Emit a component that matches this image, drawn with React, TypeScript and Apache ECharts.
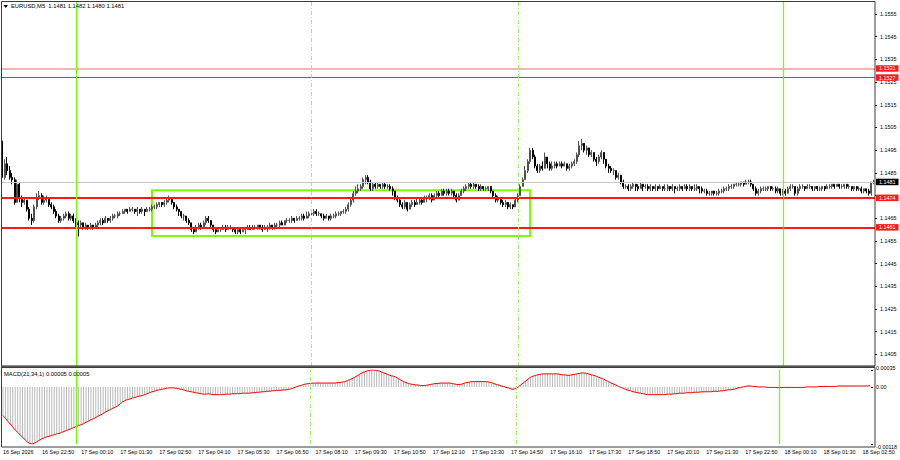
import React, { useEffect, useRef } from 'react';
import * as echarts from 'echarts';

const symbolTitle = 'EURUSD,M5  1.1481 1.1482 1.1480 1.1481';
const macdTitle = 'MACD(21,34,1) 0.00005 0.00005';

// first bar time: 16 Sep 21:30, 5-minute bars
const firstDay = 16;
const firstMinute = 21 * 60 + 30;
const barMinutes = 5;

const timeTickLabels = [
  '16 Sep 2026', '16 Sep 22:50', '17 Sep 00:10', '17 Sep 01:30', '17 Sep 02:50', '17 Sep 04:10',
  '17 Sep 05:30', '17 Sep 06:50', '17 Sep 08:10', '17 Sep 09:30', '17 Sep 10:50', '17 Sep 12:10',
  '17 Sep 13:30', '17 Sep 14:50', '17 Sep 16:10', '17 Sep 17:30', '17 Sep 18:50', '17 Sep 20:10',
  '17 Sep 21:30', '17 Sep 22:50', '18 Sep 00:10', '18 Sep 01:30', '18 Sep 02:50',
];
const tickEvery = 16;

const priceTicks = [
  1.1405, 1.1415, 1.1425, 1.1435, 1.1445, 1.1455, 1.1465, 1.1475,
  1.1485, 1.1495, 1.1505, 1.1515, 1.1525, 1.1535, 1.1545, 1.1555,
];
// 1.1475 is covered by the 1.1474 level marker in the reference
const priceTickLabels = [
  1.1405, 1.1415, 1.1425, 1.1435, 1.1445, 1.1455, 1.1465,
  1.1485, 1.1495, 1.1505, 1.1515, 1.1525, 1.1535, 1.1545, 1.1555,
];
const macdTicks = [0.00035, 0, -0.00118];

// prices in pips above 1.1400
const firstOpen = 99;
const closes = [
  83, 89, 86, 83, 82, 72, 80, 74, 72, 73,
  69, 65, 64, 70, 74, 75, 72, 73, 74, 71,
  70, 68, 66, 64, 65, 66, 67, 65, 66, 64,
  63, 62, 63, 61, 62, 61, 62, 61, 62, 63,
  64, 63, 65, 64, 65, 66, 66, 67, 67, 68,
  69, 68, 69, 69, 68, 69, 68, 69, 68, 69,
  69, 70, 70, 71, 72, 71, 72, 73, 74, 72,
  70, 69, 68, 66, 66, 64, 63, 60, 59, 61,
  62, 61, 63, 65, 64, 62, 60, 59, 60, 60,
  61, 60, 61, 61, 60, 59, 60, 59, 60, 60,
  61, 60, 61, 61, 62, 61, 60, 61, 61, 62,
  61, 62, 62, 63, 62, 64, 64, 64, 65, 64,
  65, 65, 66, 65, 66, 67, 67, 68, 67, 67,
  66, 65, 66, 65, 66, 66, 67, 67, 68, 68,
  69, 71, 73, 76, 77, 78, 79, 82, 83, 81,
  78, 80, 79, 80, 79, 80, 79, 79, 78, 77,
  74, 73, 71, 70, 72, 69, 71, 72, 71, 72,
  73, 72, 74, 74, 75, 73, 75, 76, 75, 77,
  76, 77, 76, 77, 75, 73, 75, 77, 78, 79,
  80, 79, 80, 79, 78, 79, 78, 78, 79, 77,
  75, 73, 74, 72, 71, 72, 70, 71, 70, 73,
  75, 79, 82, 86, 90, 95, 92, 88, 86, 88,
  87, 92, 89, 87, 88, 89, 88, 89, 88, 89,
  87, 88, 89, 90, 93, 97, 98, 95, 96, 93,
  94, 91, 90, 92, 94, 91, 88, 87, 86, 86,
  83, 84, 81, 79, 79, 78, 79, 80, 79, 78,
  80, 79, 79, 78, 79, 78, 79, 78, 79, 78,
  78, 79, 78, 79, 78, 78, 79, 78, 79, 78,
  79, 78, 78, 79, 78, 77, 77, 76, 76, 77,
  76, 76, 77, 77, 78, 78, 79, 79, 80, 80,
  80, 81, 80, 81, 81, 80, 78, 76, 77, 78,
  78, 78, 79, 78, 78, 77, 78, 76, 77, 76,
  78, 79, 79, 76, 78, 79, 79, 78, 79, 79,
  78, 79, 78, 78, 79, 78, 79, 79, 80, 79,
  80, 79, 79, 80, 79, 79, 78, 79, 78, 78,
  77, 78, 77, 76, 81, 81,
];
const highs = [
  100, 91, 92, 88, 85, 83, 82, 81, 75, 74,
  73, 70, 67, 71, 76, 77, 76, 75, 75, 74,
  72, 71, 69, 67, 66, 67, 68, 68, 67, 67,
  65, 64, 64, 63, 63, 62, 63, 62, 63, 64,
  65, 65, 66, 65, 66, 67, 67, 68, 68, 69,
  69, 69, 70, 70, 69, 70, 69, 70, 69, 70,
  70, 71, 71, 72, 72, 72, 73, 74, 75, 74,
  72, 71, 69, 68, 67, 66, 65, 63, 61, 62,
  63, 63, 64, 66, 66, 64, 62, 61, 61, 61,
  62, 62, 62, 62, 61, 61, 61, 60, 61, 61,
  62, 62, 62, 62, 62, 62, 62, 62, 62, 63,
  62, 63, 63, 64, 64, 64, 65, 65, 66, 65,
  66, 66, 67, 67, 68, 68, 68, 69, 69, 68,
  67, 67, 67, 66, 67, 67, 68, 68, 68, 69,
  70, 72, 74, 77, 79, 80, 80, 83, 84, 84,
  82, 81, 81, 81, 80, 81, 81, 80, 80, 79,
  77, 75, 74, 72, 73, 72, 72, 73, 73, 74,
  74, 74, 75, 75, 76, 76, 76, 77, 77, 78,
  78, 78, 78, 78, 77, 76, 76, 78, 79, 80,
  81, 81, 81, 80, 80, 80, 79, 79, 79, 79,
  77, 76, 75, 74, 73, 73, 72, 72, 71, 74,
  76, 80, 83, 88, 91, 96, 96, 93, 89, 89,
  90, 94, 92, 90, 90, 90, 90, 90, 90, 90,
  89, 89, 90, 91, 94, 99, 100, 98, 97, 96,
  95, 94, 92, 93, 95, 94, 91, 89, 88, 87,
  86, 85, 84, 82, 80, 80, 80, 81, 80, 80,
  81, 80, 80, 80, 80, 79, 80, 79, 80, 79,
  80, 80, 79, 80, 79, 79, 80, 79, 80, 80,
  80, 79, 80, 80, 79, 79, 78, 78, 77, 77,
  77, 77, 78, 78, 79, 79, 80, 80, 80, 81,
  81, 81, 81, 82, 82, 82, 80, 79, 78, 79,
  79, 79, 79, 79, 79, 79, 79, 78, 78, 78,
  79, 80, 80, 79, 79, 80, 80, 79, 80, 80,
  79, 79, 79, 79, 79, 79, 80, 80, 80, 80,
  80, 80, 80, 80, 80, 80, 79, 79, 79, 79,
  79, 78, 78, 78, 81, 82,
];
const lows = [
  81, 82, 84, 82, 80, 71, 72, 72, 70, 71,
  68, 64, 62, 63, 69, 73, 71, 71, 72, 70,
  69, 67, 65, 63, 63, 64, 65, 64, 64, 63,
  61, 57, 61, 60, 60, 60, 60, 60, 61, 61,
  62, 62, 63, 63, 63, 64, 65, 65, 66, 67,
  67, 67, 68, 68, 67, 66, 67, 67, 66, 68,
  68, 68, 69, 69, 70, 70, 70, 71, 72, 71,
  69, 68, 66, 65, 64, 63, 62, 59, 58, 59,
  60, 60, 61, 62, 63, 61, 59, 58, 59, 59,
  60, 59, 60, 60, 59, 58, 58, 58, 59, 58,
  60, 60, 60, 60, 60, 60, 59, 60, 59, 60,
  60, 60, 61, 61, 62, 62, 63, 63, 63, 63,
  64, 64, 64, 64, 65, 65, 66, 66, 66, 66,
  65, 64, 65, 64, 64, 65, 65, 66, 66, 67,
  67, 68, 70, 72, 75, 76, 77, 78, 80, 80,
  77, 77, 78, 78, 78, 78, 78, 78, 77, 75,
  73, 72, 70, 69, 69, 68, 69, 70, 70, 71,
  71, 71, 72, 72, 73, 72, 73, 74, 74, 75,
  75, 75, 75, 75, 74, 72, 73, 75, 76, 77,
  78, 78, 78, 78, 77, 77, 77, 77, 77, 76,
  74, 72, 72, 71, 70, 70, 69, 69, 69, 70,
  72, 75, 79, 82, 85, 89, 91, 87, 85, 85,
  86, 87, 87, 86, 86, 87, 87, 88, 87, 88,
  86, 86, 87, 88, 89, 92, 95, 94, 93, 92,
  92, 90, 88, 89, 91, 89, 87, 85, 85, 84,
  82, 82, 80, 78, 78, 77, 77, 78, 77, 77,
  78, 77, 78, 77, 77, 77, 77, 77, 78, 77,
  77, 77, 77, 77, 76, 77, 77, 77, 78, 77,
  77, 77, 77, 77, 76, 76, 76, 75, 75, 75,
  75, 75, 75, 76, 76, 77, 77, 78, 78, 79,
  79, 79, 79, 80, 80, 79, 77, 75, 75, 76,
  77, 77, 77, 77, 77, 76, 76, 75, 75, 75,
  76, 77, 78, 75, 75, 77, 78, 77, 78, 78,
  77, 77, 77, 77, 77, 77, 78, 78, 78, 78,
  79, 78, 78, 78, 78, 78, 77, 77, 77, 77,
  76, 76, 76, 75, 75, 80,
];

// MACD main (= signal, period 1), in units of 0.00001
const macdValues = [
  -59, -65, -71, -77, -83, -89, -94, -99, -104, -109,
  -114, -117, -118, -116, -113, -110, -107, -105, -103, -102,
  -100, -99, -97, -96, -94, -92, -90, -88, -86, -84,
  -82, -80, -78, -76, -73, -71, -68, -66, -63, -60,
  -58, -55, -52, -49, -47, -44, -42, -39, -35, -31,
  -28, -26, -25, -23, -22, -20, -19, -18, -16, -14,
  -12, -10, -9, -7, -6, -5, -4, -3, -2, -2,
  -2, -3, -4, -5, -6, -8, -9, -10, -11, -12,
  -13, -14, -15, -15, -14, -15, -16, -16, -16, -16,
  -16, -15, -15, -15, -14, -14, -14, -14, -13, -13,
  -13, -13, -12, -12, -11, -11, -10, -10, -9, -9,
  -8, -8, -7, -7, -7, -6, -6, -5, -4, -2,
  0, 2, 3, 5, 6, 7, 7, 8, 8, 8,
  8, 8, 8, 8, 8, 8, 8, 9, 9, 10,
  11, 13, 15, 17, 20, 23, 26, 29, 31, 33,
  34, 35, 35, 34, 33, 31, 29, 27, 25, 23,
  22, 20, 17, 14, 11, 9, 7, 6, 5, 4,
  4, 3, 3, 3, 4, 5, 6, 7, 7, 8,
  8, 8, 8, 8, 7, 6, 5, 5, 6, 8,
  9, 10, 11, 11, 11, 11, 11, 11, 11, 10,
  9, 7, 5, 4, 2, 1, -1, -2, -4, -5,
  -3, 0, 4, 8, 12, 16, 20, 22, 24, 25,
  26, 27, 27, 27, 27, 27, 27, 27, 26, 25,
  25, 24, 24, 25, 26, 27, 28, 29, 29, 28,
  27, 25, 24, 22, 20, 18, 16, 13, 11, 8,
  6, 4, 1, -1, -3, -5, -7, -8, -10, -11,
  -12, -13, -14, -15, -16, -16, -16, -16, -16, -16,
  -16, -16, -15, -15, -15, -14, -14, -13, -13, -13,
  -12, -12, -12, -11, -11, -11, -10, -10, -10, -10,
  -10, -9, -9, -9, -8, -8, -7, -6, -6, -5,
  -4, -2, -1, 0, 1, 2, 2, 1, 1, 0,
  0, 0, 0, -1, -1, -1, -1, -1, -1, -1,
  -1, -1, -1, -1, -1, -1, -1, -1, -1, 0,
  0, 0, 0, 0, 1, 1, 1, 1, 1, 1,
  1, 1, 2, 2, 2, 2, 2, 2, 2, 2,
  2, 2, 2, 2, 2, 3,
];

const levelPrices = [1.1531, 1.1527, 1.1474, 1.1461];
const bidPrice = 1.1481;
const solidTimes = ['17 Sep 00:00', '18 Sep 00:00'];
const dashedTimes = ['17 Sep 08:00', '17 Sep 15:00'];
const boxTimes = ['17 Sep 02:35', '17 Sep 15:25'];
const boxPrices = [1.14774, 1.14572];

const FONT = '"Liberation Sans", Arial, sans-serif';
const pad2 = (n: number) => (n < 10 ? '0' + n : '' + n);

function barTime(i: number): string {
  const total = firstMinute + i * barMinutes;
  const day = firstDay + Math.floor(total / 1440);
  const m = total % 1440;
  return `${day} Sep ${pad2(Math.floor(m / 60))}:${pad2(m % 60)}`;
}

export default function App() {
  const ref = useRef<HTMLDivElement>(null);
  useEffect(() => {
    if (!ref.current) return;
    const chart = echarts.init(ref.current, null, { renderer: 'svg' });
    const cats = closes.map((_, i) => barTime(i));
    const candleData = closes.map((c, i) => {
      const o = i === 0 ? firstOpen : closes[i - 1];
      return [o, c, lows[i], highs[i]].map((v) => (11400 + v) / 10000);
    });
    const macdData = macdValues.map((v) => v / 100000);

    const levelStyles = [
      { line: '#f39a9a', w: 1.6, bg: '#ff1a1a' },
      { line: '#d23a3a', w: 1, bg: '#ff1a1a' },
      { line: '#ff1a1a', w: 2, bg: '#ff1a1a' },
      { line: '#ff1a1a', w: 2, bg: '#ff1a1a' },
    ];
    const lblBase = {
      show: true,
      position: 'end',
      distance: 1,
      color: '#ffffff',
      fontSize: 5.4,
      fontFamily: FONT,
      padding: [1, 3, 0.5, 3],
      formatter: (p: any) => Number(p.value).toFixed(4),
    };
    const hLines: any[] = levelPrices.map((p, i) => ({
      yAxis: p,
      lineStyle: { color: levelStyles[i].line, width: levelStyles[i].w, type: 'solid' },
      label: { ...lblBase, backgroundColor: levelStyles[i].bg },
    }));
    hLines.unshift({
      yAxis: bidPrice,
      lineStyle: { color: '#c8c8c8', width: 1, type: 'solid' },
      label: { ...lblBase, backgroundColor: '#000000' },
    });
    const vLines = [
      ...solidTimes.map((t) => ({
        xAxis: t,
        lineStyle: { color: '#7cfc00', width: 1.3, type: 'solid' },
        label: { show: false },
      })),
      ...dashedTimes.map((t) => ({
        xAxis: t,
        lineStyle: { color: '#a8ee6a', width: 1, type: [4, 2, 1, 2] },
        label: { show: false },
      })),
    ];

    const option: any = {
      animation: false,
      backgroundColor: '#ffffff',
      textStyle: { fontFamily: FONT },
      grid: [
        { left: 1, right: 25, top: 2, height: 364 },
        { left: 1, right: 25, top: 370, height: 74 },
      ],
      xAxis: [
        {
          type: 'category', gridIndex: 0, data: cats, boundaryGap: true,
          axisLine: { show: false }, axisTick: { show: false }, axisLabel: { show: false },
          splitLine: { show: false },
        },
        {
          type: 'category', gridIndex: 1, data: cats, boundaryGap: true,
          axisLine: { show: false }, axisTick: { show: false }, splitLine: { show: false },
          axisLabel: {
            show: true,
            interval: (i: number) => i % tickEvery === 0,
            formatter: (_v: string, i: number) => timeTickLabels[Math.round(i / tickEvery)] || '',
            align: 'left',
            fontSize: 5.4,
            color: '#000000',
            margin: 5,
            hideOverlap: false,
          },
        },
      ],
      yAxis: [
        {
          type: 'value', gridIndex: 0, position: 'right', min: 1.13999, max: 1.15603,
          splitLine: { show: false }, axisLine: { show: false },
          axisTick: { show: true, length: 2, customValues: priceTicks, lineStyle: { color: '#000000' } },
          axisLabel: {
            customValues: priceTickLabels, formatter: (v: number) => v.toFixed(4),
            fontSize: 5.4, margin: 5, color: '#000000',
          },
        },
        {
          type: 'value', gridIndex: 1, position: 'right', min: -0.00118, max: 0.00035,
          splitLine: { show: false }, axisLine: { show: false },
          axisTick: { show: true, length: 2, customValues: macdTicks, lineStyle: { color: '#000000' } },
          axisLabel: {
            customValues: macdTicks,
            formatter: (v: number) => (v === 0 ? '0.00' : v.toFixed(5)),
            fontSize: 5.4, margin: 5, color: '#000000',
            verticalAlignMinLabel: 'bottom', verticalAlignMaxLabel: 'top',
          },
        },
      ],
      series: [
        {
          type: 'candlestick', xAxisIndex: 0, yAxisIndex: 0, data: candleData,
          barWidth: 1.5, clip: false, silent: true,
          itemStyle: {
            color: '#ffffff', color0: '#000000',
            borderColor: '#505050', borderColor0: '#000000', borderWidth: 1,
          },
          markLine: {
            silent: true, symbol: ['none', 'none'], animation: false, precision: 5,
            data: [...hLines, ...vLines],
          },
          markArea: {
            silent: true, precision: 5,
            itemStyle: { color: 'rgba(0,0,0,0)', borderColor: '#7cfc00', borderWidth: 2 },
            data: [[
              { xAxis: boxTimes[0], yAxis: boxPrices[0] },
              { xAxis: boxTimes[1], yAxis: boxPrices[1] },
            ]],
          },
        },
        {
          type: 'bar', xAxisIndex: 1, yAxisIndex: 1, data: macdData,
          barWidth: 1, silent: true, clip: false,
          itemStyle: { color: '#b8b8b8' },
          markLine: {
            silent: true, symbol: ['none', 'none'], animation: false,
            data: vLines,
          },
        },
        {
          type: 'line', xAxisIndex: 1, yAxisIndex: 1, data: macdData,
          symbol: 'none', silent: true,
          lineStyle: { color: '#ff0000', width: 1 },
        },
      ],
      graphic: [
        { type: 'rect', silent: true, z: 100, shape: { x: 1.5, y: 1.5, width: 873.5, height: 364.5 }, style: { fill: 'none', stroke: '#3c3c3c', lineWidth: 1 } },
        { type: 'line', silent: true, z: 100, shape: { x1: 1, y1: 366.8, x2: 875, y2: 366.8 }, style: { stroke: '#5a5a5a', lineWidth: 2 } },
        { type: 'rect', silent: true, z: 100, shape: { x: 1.5, y: 367.5, width: 873.5, height: 79.5 }, style: { fill: 'none', stroke: '#3c3c3c', lineWidth: 1 } },
        { type: 'polygon', silent: true, z: 100, shape: { points: [[3.5, 5], [8, 5], [5.75, 8]] }, style: { fill: '#000000' } },
        { type: 'text', silent: true, z: 100, x: 11, y: 3, style: { text: symbolTitle, fontSize: 5.8, fill: '#000000', fontFamily: FONT } },
        { type: 'text', silent: true, z: 100, x: 4, y: 370.5, style: { text: macdTitle, fontSize: 5.8, fill: '#000000', fontFamily: FONT } },
      ],
    };
    chart.setOption(option);
    return () => chart.dispose();
  }, []);
  return (
    <div
      ref={ref}
      style={{ position: 'fixed', left: 0, top: 0, width: 900, height: 460, background: '#ffffff' }}
    />
  );
}
